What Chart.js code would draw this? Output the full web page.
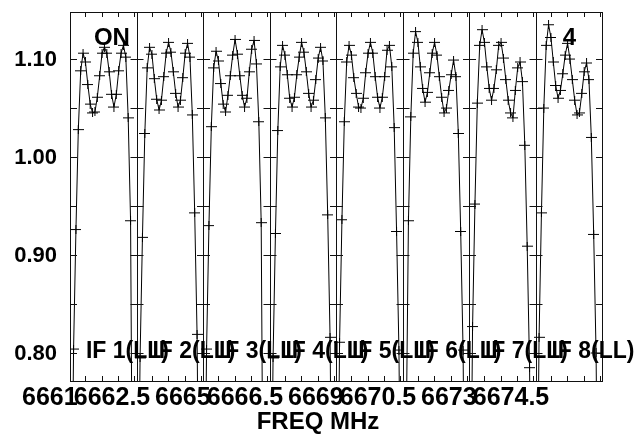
<!DOCTYPE html>
<html>
<head>
<meta charset="utf-8">
<script src="https://cdn.jsdelivr.net/npm/chart.js@4/dist/chart.umd.min.js"></script>
<style>
  html, body { margin: 0; padding: 0; background: #fff; }
</style>
</head>
<body>
<canvas id="possm" width="638" height="434"></canvas>
<script>
// bandpass amplitude per channel, one array per IF (channels past the band edges drop off the plot)
const nChan = 28;
const if1 = [0.55, 0.804, 0.926, 1.028, 1.088, 1.106, 1.097, 1.074, 1.054, 1.045, 1.046, 1.061, 1.083, 1.106, 1.112, 1.106, 1.087, 1.064, 1.051, 1.064, 1.088, 1.106, 1.114, 1.102, 1.040, 0.935, 0.55, 0.55];
const if2 = [0.55, 0.795, 0.918, 1.024, 1.091, 1.112, 1.105, 1.080, 1.059, 1.048, 1.058, 1.082, 1.106, 1.117, 1.107, 1.087, 1.065, 1.051, 1.058, 1.081, 1.106, 1.116, 1.102, 1.043, 0.943, 0.819, 0.55, 0.55];
const if3 = [0.55, 0.804, 0.930, 1.031, 1.091, 1.108, 1.098, 1.075, 1.054, 1.046, 1.063, 1.083, 1.104, 1.120, 1.105, 1.083, 1.063, 1.051, 1.060, 1.087, 1.110, 1.119, 1.095, 1.036, 0.933, 0.55, 0.55, 0.55];
const if4 = [0.55, 0.795, 0.922, 1.027, 1.092, 1.114, 1.104, 1.084, 1.060, 1.051, 1.061, 1.084, 1.102, 1.117, 1.107, 1.087, 1.065, 1.051, 1.058, 1.079, 1.101, 1.112, 1.098, 1.040, 0.941, 0.816, 0.55, 0.55];
const if5 = [0.55, 0.811, 0.936, 1.036, 1.097, 1.114, 1.104, 1.081, 1.065, 1.051, 1.050, 1.060, 1.086, 1.106, 1.117, 1.106, 1.082, 1.061, 1.050, 1.061, 1.082, 1.109, 1.114, 1.092, 1.030, 0.924, 0.803, 0.55];
const if6 = [0.55, 0.70, 0.935, 1.041, 1.106, 1.128, 1.117, 1.092, 1.070, 1.056, 1.066, 1.086, 1.106, 1.117, 1.104, 1.082, 1.061, 1.045, 1.050, 1.068, 1.084, 1.099, 1.082, 1.024, 0.924, 0.803, 0.55, 0.55];
const if7 = [0.55, 0.827, 0.952, 1.055, 1.114, 1.130, 1.117, 1.092, 1.070, 1.058, 1.070, 1.089, 1.114, 1.117, 1.101, 1.079, 1.058, 1.045, 1.040, 1.068, 1.091, 1.097, 1.077, 1.012, 0.909, 0.785, 0.55, 0.55];
const if8 = [0.55, 0.816, 0.943, 1.050, 1.114, 1.135, 1.122, 1.097, 1.073, 1.060, 1.068, 1.085, 1.104, 1.116, 1.100, 1.079, 1.058, 1.043, 1.045, 1.065, 1.087, 1.096, 1.079, 1.020, 0.921, 0.800, 0.55, 0.55];
const ifData = [if1, if2, if3, if4, if5, if6, if7, if8];
const ifNames = ['IF 1(LL)', 'IF 2(LL)', 'IF 3(LL)', 'IF 4(LL)', 'IF 5(LL)', 'IF 6(LL)', 'IF 7(LL)', 'IF 8(LL)'];

// axis ticks
const yTicks = [0.80, 0.90, 1.00, 1.10];
const yMinor = [0.80, 0.85, 0.90, 0.95, 1.00, 1.05, 1.10];
const freqLabels = ['6661', '6662.5', '6665', '6666.5', '6669', '6670.5', '6673', '6674.5'];
const freqTickAt = [-0.304, 0.632, 1.696, 2.632, 3.696, 4.632, 5.696, 6.632]; // in IF-panel units
const panelTicks = [0.233, 0.478, 0.722, 0.966];

const FONT = '"Liberation Sans", Arial, sans-serif';

function plusMark() {
  const c = document.createElement('canvas');
  c.width = 11;
  c.height = 9;
  const g = c.getContext('2d');
  g.fillStyle = '#000';
  g.fillRect(0, 4, 11, 1);
  g.fillRect(5, 0, 1, 9);
  return c;
}
const mark = plusMark();

const datasets = ifData.map((vals, k) => ({
  label: ifNames[k],
  data: vals.map((v, i) => ({ x: k + (i + 0.5) / nChan, y: v })),
  borderColor: '#000',
  borderWidth: 1,
  pointStyle: mark,
  pointRadius: 4,
  tension: 0,
  fill: false,
}));

const framePlugin = {
  id: 'possmFrame',
  afterDraw(chart) {
    const ctx = chart.ctx;
    const xs = chart.scales.x, ys = chart.scales.y;
    const { left, right, top, bottom } = chart.chartArea;
    ctx.save();
    ctx.strokeStyle = '#111';
    ctx.lineWidth = 1;
    ctx.strokeRect(left + 0.5, top + 0.5, right - left, bottom - top);

    ctx.beginPath();
    for (let k = 1; k < 8; k++) {
      const x = Math.round(xs.getPixelForValue(k)) + 0.5;
      ctx.moveTo(x, top);
      ctx.lineTo(x, bottom);
    }
    // y ticks on every panel edge
    yMinor.forEach(v => {
      const y = Math.round(ys.getPixelForValue(v)) + 0.5;
      for (let k = 0; k <= 8; k++) {
        const x = xs.getPixelForValue(k);
        ctx.moveTo(k > 0 ? x - 6 : x, y);
        ctx.lineTo(k < 8 ? x + 7 : x, y);
      }
    });
    // frequency ticks top and bottom of every panel
    for (let k = 0; k < 8; k++) {
      panelTicks.forEach(f => {
        const x = Math.round(xs.getPixelForValue(k + f)) + 0.5;
        ctx.moveTo(x, top);
        ctx.lineTo(x, top + 5);
        ctx.moveTo(x, bottom);
        ctx.lineTo(x, bottom - 5);
      });
    }
    ctx.stroke();

    ctx.fillStyle = '#000';
    ctx.font = 'bold 22px ' + FONT;
    ctx.textAlign = 'right';
    ctx.textBaseline = 'middle';
    yTicks.forEach(v => {
      ctx.fillText(v.toFixed(2), left - 13, ys.getPixelForValue(v) + 1);
    });

    ctx.textBaseline = 'alphabetic';
    ctx.textAlign = 'center';
    ctx.font = 'bold 25px ' + FONT;
    freqLabels.forEach((t, i) => {
      ctx.fillText(t, xs.getPixelForValue(freqTickAt[i]), bottom + 24);
    });
    ctx.font = 'bold 24px ' + FONT;
    ctx.fillText('FREQ MHz', 318, bottom + 48);

    ctx.textAlign = 'left';
    ctx.font = 'bold 23px ' + FONT;
    ifNames.forEach((t, k) => {
      ctx.fillText(t, xs.getPixelForValue(k + 0.24), bottom - 23);
    });

    ctx.font = 'bold 24px ' + FONT;
    ctx.fillText('ON', xs.getPixelForValue(0.36), top + 33);
    ctx.fillText('4', xs.getPixelForValue(7.41), top + 33);
    ctx.restore();
  }
};

new Chart(document.getElementById('possm'), {
  type: 'line',
  data: { datasets },
  options: {
    responsive: false,
    animation: false,
    devicePixelRatio: 1,
    layout: { padding: { left: 70, right: 36, top: 12, bottom: 53 } },
    plugins: { legend: { display: false }, tooltip: { enabled: false } },
    scales: {
      x: { type: 'linear', min: 0, max: 8, display: false },
      y: { type: 'linear', min: 0.7714, max: 1.148, display: false },
    },
  },
  plugins: [framePlugin],
});
</script>
</body>
</html>
